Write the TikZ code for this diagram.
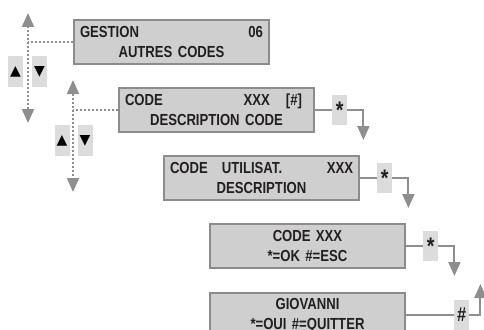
\documentclass[tikz,border=0pt]{standalone}
\usepackage{fontspec}
\setmainfont{Liberation Sans}[FakeStretch=0.82]
\newfontfamily\symfont{DejaVu Sans}
\usetikzlibrary{positioning,arrows.meta}

\definecolor{lcdfill}{HTML}{CFCFCF}
\definecolor{lcdedge}{HTML}{8C8C8C}
\definecolor{keyfill}{HTML}{DCDCDC}
\definecolor{linkgray}{HTML}{8E8E8E}
\definecolor{ink}{HTML}{231F20}
\newcommand{\lcdline}[2]{\makebox[\linewidth]{#1\hfill#2}}

\begin{document}
\begin{tikzpicture}[x=1pt, y=-1pt,
        lcd/.style={rectangle, draw=lcdedge, fill=lcdfill, line width=2pt,
            minimum width=195pt, minimum height=44pt, text width=183pt,
            inner xsep=5pt, align=center, text=ink, anchor=north west,
            font=\bfseries\fontsize{16}{20}\selectfont},
        key/.style={rectangle, fill=keyfill, minimum width=15pt, minimum height=30pt,
            inner sep=0pt, text=ink, font=\bfseries\fontsize{24}{24}\selectfont},
        btn/.style={rectangle, fill=keyfill, minimum width=15pt, minimum height=31pt,
            inner sep=0pt, text=black, font=\symfont\fontsize{14}{14}\selectfont},
        link/.style={draw=linkgray, line width=2pt},
        tip/.style={-{Triangle[width=12pt,length=14pt]}},
        dots/.style={draw=linkgray, line width=2pt, dash pattern=on 2pt off 2pt},
        nav/.style={dots, {Triangle[width=12pt,length=14pt]}-{Triangle[width=12pt,length=14pt]}}
    ]
    \useasboundingbox (0,0) rectangle (484,329);
    \clip (0,0) rectangle (484,329);

    % display screens
    \node[lcd] (gestion) at (73,19) {\lcdline{GESTION}{06}\\AUTRES CODES};
    \node[lcd] (codes) at (118,87) {\lcdline{CODE}{XXX\hspace{16pt}[\#]\hspace{6pt}}\\DESCRIPTION CODE};
    \node[lcd] (user) at (163,155) {\lcdline{CODE\hspace{14pt}UTILISAT.}{XXX}\\DESCRIPTION};
    \node[lcd] (confirm) at (209,223) {CODE XXX\\{*}=OK \#=ESC};
    \node[lcd] (name) at (209,292) {GIOVANNI\\{*}=OUI \#=QUITTER};

    % keys
    \node[key, right=17pt of codes] (k1) {*};
    \node[key, right=17pt of user] (k2) {*};
    \node[key, right=17pt of confirm] (k3) {*};
    \node[key, right=48pt of name, font=\bfseries\fontsize{20}{20}\selectfont] (k4) {\#};

    \coordinate (t1) at ([xshift=16pt,yshift=-30pt]k1.east);
    \coordinate (t2) at ([xshift=16pt,yshift=-30pt]k2.east);
    \coordinate (t3) at ([xshift=16pt,yshift=-30pt]k3.east);
    \coordinate (t4) at ([xshift=11pt,yshift=31pt]k4.east);

    \draw[link] (codes) -- (k1);
    \draw[link, tip] (k1) -| (t1);
    \draw[link] (user) -- (k2);
    \draw[link, tip] (k2) -| (t2);
    \draw[link] (confirm) -- (k3);
    \draw[link, tip] (k3) -| (t3);
    \draw[link] (name) -- (k4);
    \draw[link, tip] (k4) -| (t4);

    % scrolling
    \coordinate (n1top) at (28,13);
    \coordinate (n1bot) at (28,123);
    \draw[nav] (n1top) -- (n1bot);
    \draw[dots] (gestion.west) -- (gestion.west -| n1top);
    \node[btn] (up1) at (15.5,71.5) {▲};
    \node[btn] (dn1) at (39.5,71.5) {▼};

    \coordinate (n2top) at (73,80);
    \coordinate (n2bot) at (73,192);
    \draw[nav] (n2top) -- (n2bot);
    \draw[dots] (codes.west) -- (codes.west -| n2top);
    \node[btn] (up2) at (62,140.5) {▲};
    \node[btn] (dn2) at (85,140.5) {▼};
\end{tikzpicture}
\end{document}
